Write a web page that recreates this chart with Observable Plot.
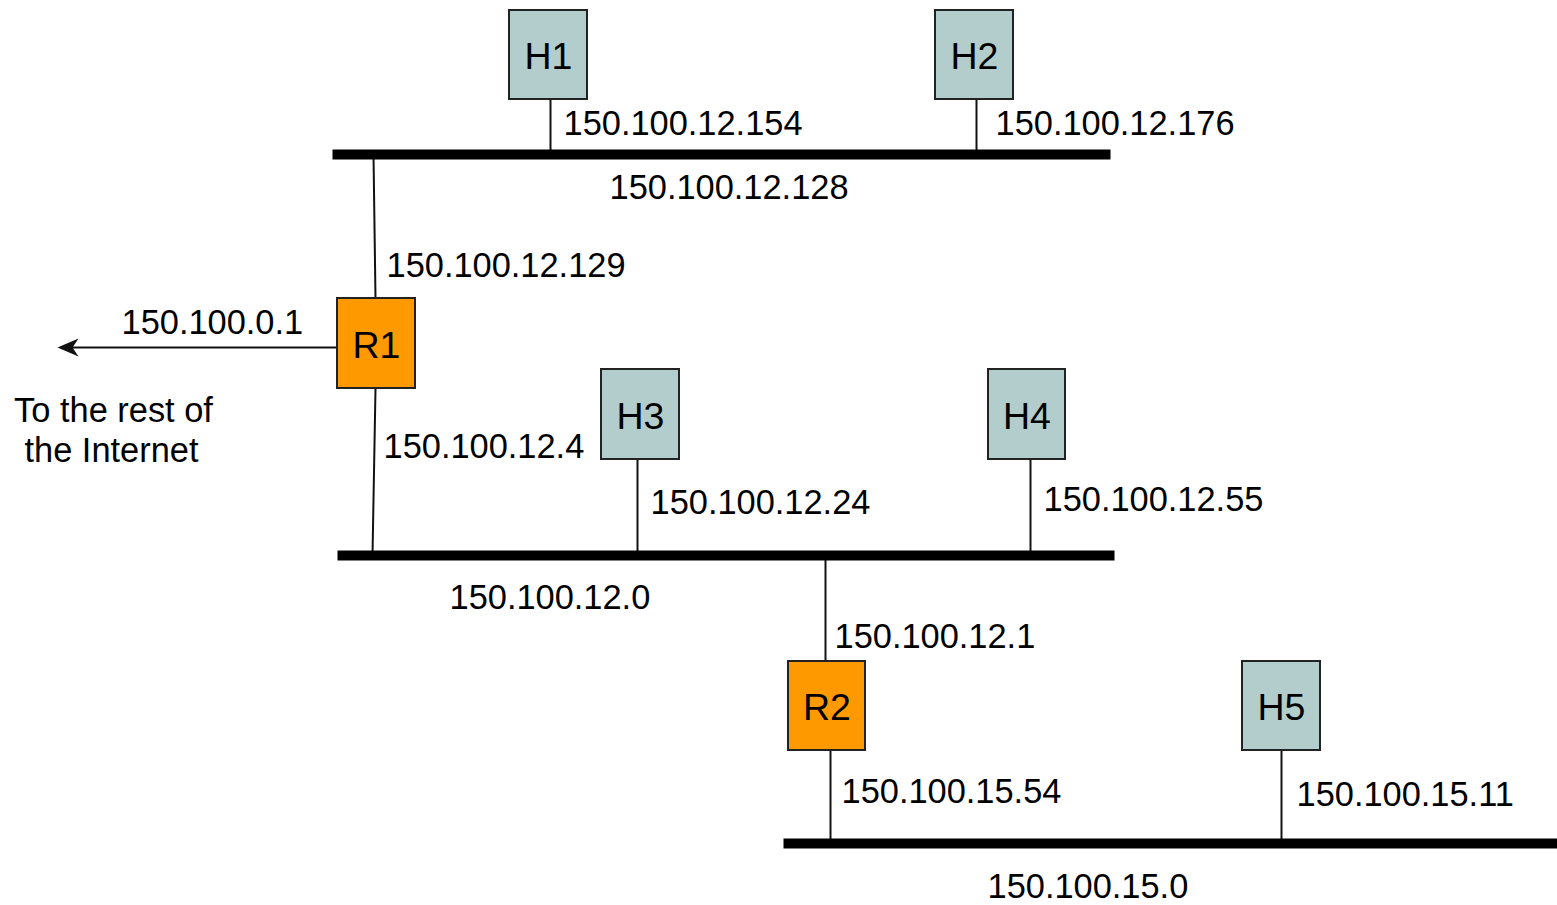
<!DOCTYPE html>
<html>
<head>
<meta charset="utf-8">
<script src="https://cdn.jsdelivr.net/npm/d3@7"></script>
<script src="https://cdn.jsdelivr.net/npm/@observablehq/plot@0.6"></script>
<style>
  html, body { margin: 0; padding: 0; background: #fff; }
  #chart svg { display: block; }
</style>
</head>
<body>
<div id="chart"></div>
<script>
// Network segments (thick buses)
const buses = [
  {name: "150.100.12.128", x1: 332, x2: 1110, y: 154},
  {name: "150.100.12.0",   x1: 337, x2: 1114, y: 555},
  {name: "150.100.15.0",   x1: 783, x2: 1557, y: 843}
];

// Devices: hosts and routers
const nodes = [
  {name: "H1", kind: "host",   x1: 509, x2: 587, y1: 10,  y2: 99},
  {name: "H2", kind: "host",   x1: 935, x2: 1013, y1: 10, y2: 99},
  {name: "R1", kind: "router", x1: 337, x2: 415, y1: 298, y2: 388},
  {name: "H3", kind: "host",   x1: 601, x2: 679, y1: 369, y2: 459},
  {name: "H4", kind: "host",   x1: 988, x2: 1065, y1: 369, y2: 459},
  {name: "R2", kind: "router", x1: 788, x2: 865, y1: 661, y2: 750},
  {name: "H5", kind: "host",   x1: 1242, x2: 1320, y1: 661, y2: 750}
];

// Attachment links (device to bus)
const links = [
  {from: "H1", x1: 550, y1: 99,  x2: 550, y2: 154},
  {from: "H2", x1: 976, y1: 99,  x2: 976, y2: 154},
  {from: "R1", x1: 375, y1: 298, x2: 373, y2: 154},
  {from: "R1", x1: 375, y1: 388, x2: 372, y2: 555},
  {from: "H3", x1: 637, y1: 459, x2: 637, y2: 555},
  {from: "H4", x1: 1030, y1: 459, x2: 1030, y2: 555},
  {from: "R2", x1: 825, y1: 661, x2: 825, y2: 555},
  {from: "R2", x1: 830, y1: 750, x2: 830, y2: 843},
  {from: "H5", x1: 1281, y1: 750, x2: 1281, y2: 843}
];

// Uplink to the Internet
const uplink = [{x1: 337, y1: 347, x2: 57, y2: 347}];

// Interface / network address labels
const addrLabels = [
  {text: "150.100.12.154", x: 563,  y: 122},
  {text: "150.100.12.176", x: 995,  y: 122},
  {text: "150.100.12.128", x: 609,  y: 186},
  {text: "150.100.12.129", x: 386,  y: 264},
  {text: "150.100.0.1",    x: 121,  y: 321},
  {text: "150.100.12.4",   x: 383,  y: 445},
  {text: "150.100.12.24",  x: 650,  y: 501},
  {text: "150.100.12.55",  x: 1043, y: 498},
  {text: "150.100.12.0",   x: 449,  y: 596},
  {text: "150.100.12.1",   x: 834,  y: 635},
  {text: "150.100.15.54",  x: 841,  y: 790},
  {text: "150.100.15.11",  x: 1296, y: 793},
  {text: "150.100.15.0",   x: 987,  y: 885}
];

const noteLabels = [
  {text: "To the rest of", x: 113, y: 409},
  {text: "the Internet",   x: 111, y: 449}
];

const colors = {host: "#b3cdcc", router: "#ff9900"};

// Arrowhead symbol (tip at origin, pointing left)
const arrowHead = {
  draw(ctx, size) {
    ctx.moveTo(0, 0);
    ctx.lineTo(21, -9);
    ctx.lineTo(15, 0);
    ctx.lineTo(21, 9);
    ctx.closePath();
  }
};

const font = "'Liberation Sans', Arial, Helvetica, sans-serif";

const chart = Plot.plot({
  width: 1557,
  height: 905,
  margin: 0,
  x: {domain: [0, 1557], range: [0, 1557], axis: null},
  y: {domain: [0, 905], range: [0, 905], axis: null},
  style: {background: "#fff", fontFamily: font},
  marks: [
    Plot.link(links, {x1: "x1", y1: "y1", x2: "x2", y2: "y2", stroke: "#111", strokeWidth: 2}),
    Plot.link(uplink, {x1: "x1", y1: "y1", x2: d => d.x2 + 10, y2: "y2", stroke: "#111", strokeWidth: 2.2}),
    Plot.dot(uplink, {x: "x2", y: "y2", symbol: arrowHead, r: 4, fill: "#111", stroke: "none"}),
    Plot.link(buses, {x1: "x1", x2: "x2", y1: "y", y2: "y", stroke: "#000", strokeWidth: 10, strokeLinecap: "butt"}),
    Plot.rect(nodes, {x1: "x1", x2: "x2", y1: "y1", y2: "y2", fill: d => colors[d.kind], stroke: "#222", strokeWidth: 2}),
    Plot.text(nodes, {x: d => (d.x1 + d.x2) / 2, y: d => (d.y1 + d.y2) / 2, text: "name", fontSize: 37.5, fill: "#000", textAnchor: "middle", lineAnchor: "middle", dy: 2}),
    Plot.text(addrLabels, {x: "x", y: "y", text: "text", fontSize: 34.4, fill: "#000", textAnchor: "start", lineAnchor: "middle", dy: 1}),
    Plot.text(noteLabels, {x: "x", y: "y", text: "text", fontSize: 34.4, fill: "#000", textAnchor: "middle", lineAnchor: "middle", dy: 1})
  ]
});

document.getElementById("chart").appendChild(chart);
</script>
</body>
</html>
